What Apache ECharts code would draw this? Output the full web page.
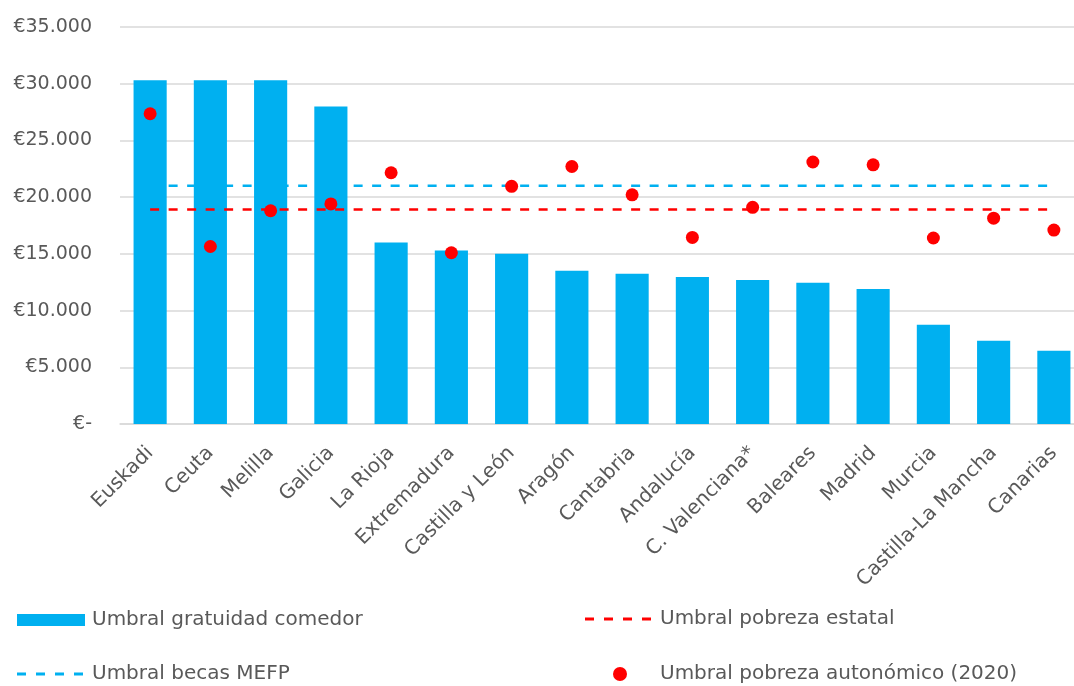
<!DOCTYPE html>
<html>
<head>
<meta charset="utf-8">
<script src="https://cdn.jsdelivr.net/npm/echarts@6/dist/echarts.min.js"></script>
<style>
html,body{margin:0;padding:0;background:#fff;}
#chart{width:1074px;height:686px;}
</style>
</head>
<body>
<div id="chart"></div>
<script>
const categories = ['Euskadi','Ceuta','Melilla','Galicia','La Rioja','Extremadura','Castilla y León','Aragón','Cantabria','Andalucía','C. Valenciana*','Baleares','Madrid','Murcia','Castilla-La Mancha','Canarias'];
const comedor = [30300,30300,30300,28000,16000,15300,15000,13500,13250,12950,12700,12450,11900,8750,7350,6450];
const autonomico = [27350,15650,18800,19400,22150,15100,20950,22700,20200,16450,19100,23100,22850,16400,18150,17100];
const becasMEFP = Array(categories.length).fill(21000);
const pobrezaEstatal = Array(categories.length).fill(18900);
const yTicks = [0,5000,10000,15000,20000,25000,30000,35000];

const FONT = 'DejaVu Sans';
const TXT = '#595959';
const BLUE = '#00B0F0';
const RED = '#FF0000';
const DASH_ICON = 'path://M0,0h9v3h-9z M19,0h9v3h-9z M38,0h9v3h-9z M57,0h9v3h-9z';

function fmt(v){
  if (v === 0) return '€-';
  return '€' + String(v).replace(/\B(?=(\d{3})+(?!\d))/g, '.');
}

const chart = echarts.init(document.getElementById('chart'));
const legendText = {color: TXT, fontFamily: FONT, fontSize: 20};
chart.setOption({
  animation: false,
  grid: {left: 120, right: -10, top: 27, bottom: 262, containLabel: false, outerBoundsMode: 'none'},
  legend: [
    {left: 17, top: 610, padding: 0, itemWidth: 68, itemHeight: 12, itemGap: 0, icon: 'rect', textStyle: Object.assign({}, legendText, {padding: [0,0,0,2]}), data: ['Umbral gratuidad comedor']},
    {left: 585, top: 609, padding: 0, itemWidth: 66, itemHeight: 3, itemGap: 0, icon: DASH_ICON, textStyle: Object.assign({}, legendText, {padding: [0,0,0,4]}), data: ['Umbral pobreza estatal']},
    {left: 17, top: 664, padding: 0, itemWidth: 66, itemHeight: 3, itemGap: 0, icon: DASH_ICON, textStyle: Object.assign({}, legendText, {padding: [0,0,0,4]}), data: ['Umbral becas MEFP']},
    {left: 613, top: 664, padding: 0, itemWidth: 14, itemHeight: 14, itemGap: 0, icon: 'circle', textStyle: Object.assign({}, legendText, {padding: [0,0,0,28]}), data: ['Umbral pobreza autonómico (2020)']}
  ],
  xAxis: {
    type: 'category',
    data: categories,
    axisLine: {lineStyle: {color: '#d9d9d9', width: 1.5}},
    axisTick: {show: false},
    axisLabel: {interval: 0, rotate: 45, margin: 26, color: TXT, fontFamily: FONT, fontSize: 20, align: 'right', verticalAlign: 'middle'}
  },
  yAxis: {
    type: 'value',
    min: 0, max: 35000, interval: 5000,
    axisLine: {show: false},
    axisTick: {show: false},
    splitLine: {lineStyle: {color: '#d9d9d9', width: 1.5}},
    axisLabel: {margin: 28, color: TXT, fontFamily: FONT, fontSize: 19, formatter: fmt, customValues: yTicks}
  },
  series: [
    {name: 'Umbral becas MEFP', type: 'line', data: becasMEFP, z: 1, symbol: 'none', showSymbol: false,
     lineStyle: {color: BLUE, width: 2.5, type: [9, 9.5]}, itemStyle: {color: BLUE}},
    {name: 'Umbral gratuidad comedor', type: 'bar', data: comedor, z: 2, barWidth: '55%',
     itemStyle: {color: BLUE}},
    {name: 'Umbral pobreza estatal', type: 'line', data: pobrezaEstatal, z: 3, symbol: 'none', showSymbol: false,
     lineStyle: {color: RED, width: 2.5, type: [9, 9.5]}, itemStyle: {color: RED}},
    {name: 'Umbral pobreza autonómico (2020)', type: 'scatter', data: autonomico, z: 4, symbolSize: 13,
     itemStyle: {color: RED, opacity: 1}}
  ]
});
</script>
</body>
</html>
